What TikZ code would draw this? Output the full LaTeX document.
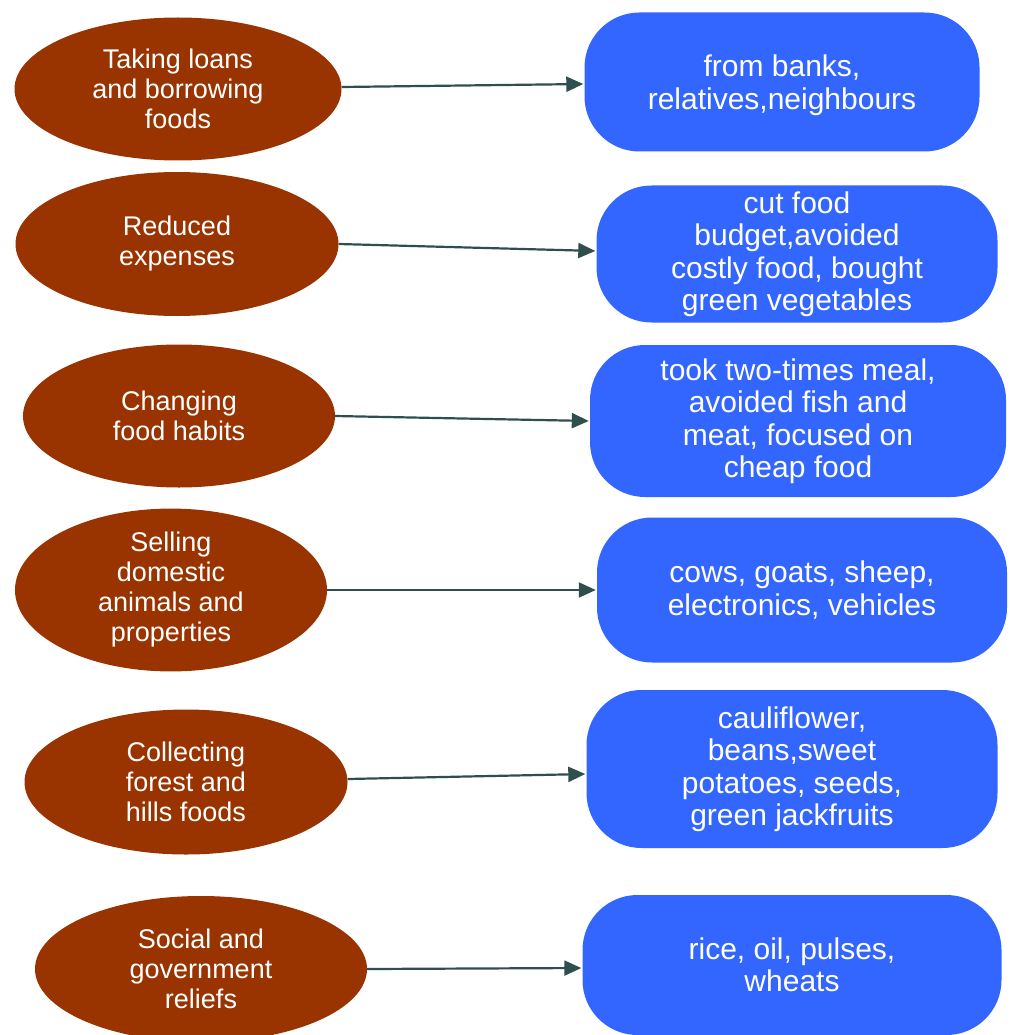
\documentclass[tikz,border=0pt]{standalone}
\usepackage{fontspec}
\setmainfont{Liberation Sans}
\usetikzlibrary{shapes.geometric,arrows.meta}
\definecolor{brownfill}{HTML}{993300}
\definecolor{bluefill}{HTML}{3366FF}
\definecolor{arrowcol}{HTML}{2F4F4F}
\tikzset{
  cause/.style={ellipse, fill=brownfill, draw=none, inner sep=0pt, text=white, align=center,
    font=\fontsize{27}{30}\selectfont},
  effect/.style={rectangle, fill=bluefill, draw=none, rounded corners=55pt, inner sep=0pt, text=white, align=center,
    font=\fontsize{30}{32.5}\selectfont},
  efftext/.style={inner sep=0pt, text=white, align=center, font=\fontsize{30}{32.5}\selectfont},
  link/.style={draw=arrowcol, line width=2.2pt, -{Triangle[length=17pt,width=15pt]}, shorten >=1pt}
}
\begin{document}
\begin{tikzpicture}[x=1pt,y=-1pt]
\useasboundingbox[fill=white] (0,0) rectangle (1009,1035);

\node[cause, minimum width=327pt, minimum height=143pt] (e1) at (178,89) {Taking loans\\and borrowing\\foods};
\node[cause, minimum width=323pt, minimum height=144pt] (e2) at (177,244) {Reduced\\expenses};
\node[cause, minimum width=312pt, minimum height=143pt] (e3) at (179,416) {Changing\\food habits};
\node[cause, minimum width=312pt, minimum height=145pt] (e4) at (171,590) {Selling\\domestic\\animals and\\properties};
\node[cause, minimum width=323pt, minimum height=145pt] (e5) at (186,782) {Collecting\\forest and\\hills foods};
\node[cause, minimum width=332pt, minimum height=146pt] (e6) at (201,969) {Social and\\government\\reliefs};

\node[effect, minimum width=395pt, minimum height=139pt] (b1) at (782,82) {};
\node[efftext] (b1t) at (782,85) {from banks,\\relatives,neighbours};
\node[effect, minimum width=401pt, minimum height=137pt] (b2) at (797,254) {cut food\\budget,avoided\\costly food, bought\\green vegetables};
\node[effect, minimum width=416pt, minimum height=152pt] (b3) at (798,421) {took two-times meal,\\avoided fish and\\meat, focused on\\cheap food};
\node[effect, minimum width=410pt, minimum height=145pt] (b4) at (802,590) {cows, goats, sheep,\\electronics, vehicles};
\node[effect, minimum width=411pt, minimum height=158pt] (b5) at (792,769) {cauliflower,\\beans,sweet\\potatoes, seeds,\\green jackfruits};
\node[effect, minimum width=419pt, minimum height=140pt] (b6) at (792,965) {rice, oil, pulses,\\wheats};

\draw[link] ([yshift=2pt]e1.east) -- ([yshift=-2pt]b1.west);
\draw[link] (e2.east) -- ([yshift=3pt]b2.west);
\draw[link] (e3.east) -- (b3.west);
\draw[link] (e4.east) -- (b4.west);
\draw[link] ([yshift=3pt]e5.east) -- ([yshift=-5pt]b5.west);
\draw[link] (e6.east) -- ([yshift=-3pt]b6.west);
\end{tikzpicture}
\end{document}
